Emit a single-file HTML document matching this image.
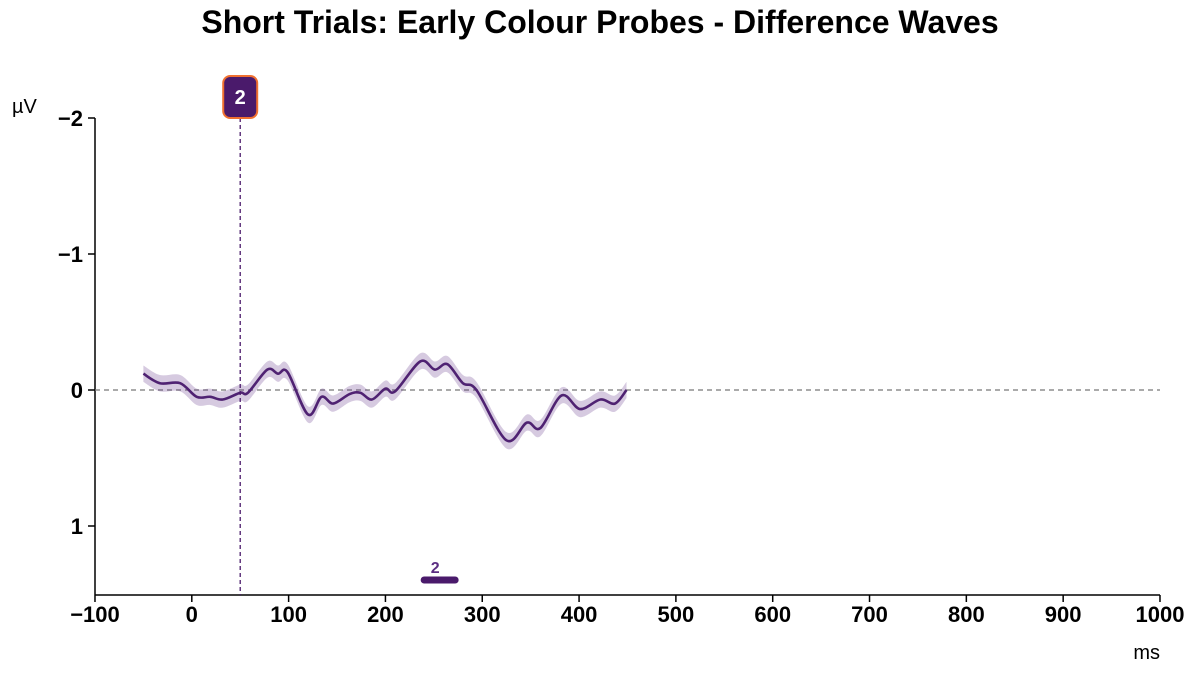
<!DOCTYPE html>
<html><head><meta charset="utf-8"><style>
body{margin:0;background:#fff}
svg{display:block;font-family:"Liberation Sans",sans-serif}
</style></head><body>
<svg id="c" width="1200" height="675">
<text x="600" y="33" text-anchor="middle" font-size="32" font-weight="bold">Short Trials: Early Colour Probes - Difference Waves</text>
<text x="12" y="113" font-size="20">µV</text>
<text x="1160" y="659" font-size="20" text-anchor="end">ms</text>
<g id="g"></g>
</svg>
<script>
const xTicks=[-100,0,100,200,300,400,500,600,700,800,900,1000];
const yTicks=[-2,-1,0,1];
const times=[-50,-33,-12,5,19,32,50,58,78,89,99,120,134,146,163,174,186,200,210,236,251,264,280,294,325,346,360,382,401,422,437,449];
const values=[-0.12,-0.05,-0.05,0.05,0.05,0.07,0.02,0.02,-0.15,-0.12,-0.13,0.18,0.05,0.1,0.03,0.02,0.07,-0.01,0.01,-0.21,-0.15,-0.19,-0.05,0,0.37,0.24,0.28,0.04,0.14,0.07,0.1,0];
const bandHalf=0.06;
const markerTime=50, markerLabel="2";
const sigStart=240, sigEnd=272;
const X=t=>191.8+(t)*1065/1100;
const Y=v=>390+v*136;
const NS="http://www.w3.org/2000/svg";
const g=document.getElementById('g');
function mk(tag,at,name){const e=document.createElementNS(NS,tag);for(const k in at)e.setAttribute(k,at[k]);


g.appendChild(e);return e;}
function path(pts){let d=`M${pts[0][0]},${pts[0][1]}`;for(let i=0;i<pts.length-1;i++){const p0=pts[Math.max(0,i-1)],p1=pts[i],p2=pts[i+1],p3=pts[Math.min(pts.length-1,i+2)];
d+=` C${p1[0]+(p2[0]-p0[0])/6},${p1[1]+(p2[1]-p0[1])/6} ${p2[0]-(p3[0]-p1[0])/6},${p2[1]-(p3[1]-p1[1])/6} ${p2[0]},${p2[1]}`;}return d;}
mk('line',{x1:95,y1:118,x2:95,y2:595,stroke:'#000','stroke-width':1.5},'y-axis');
mk('line',{x1:95,y1:595,x2:1160,y2:595,stroke:'#000','stroke-width':1.5},'x-axis');
xTicks.forEach(t=>{mk('line',{x1:X(t),y1:595,x2:X(t),y2:602,stroke:'#000','stroke-width':1.5},'x-tick');
const tx=mk('text',{x:X(t),y:622,'text-anchor':'middle','font-size':22,'font-weight':'bold'},'x-tick-label');tx.textContent=t<0?'−'+(-t):t;});
yTicks.forEach(v=>{mk('line',{x1:88,y1:Y(v),x2:95,y2:Y(v),stroke:'#000','stroke-width':1.5},'y-tick');
const tx=mk('text',{x:83,y:Y(v)+8,'text-anchor':'end','font-size':22,'font-weight':'bold'},'y-tick-label');tx.textContent=v<0?'−'+(-v):v;});
mk('line',{x1:95,y1:Y(0),x2:1160,y2:Y(0),stroke:'#777','stroke-width':1.2,'stroke-dasharray':'5,4'},'zero-line');
const up=times.map((t,i)=>[X(t),Y(values[i]-bandHalf)]);
const lo=times.map((t,i)=>[X(t),Y(values[i]+bandHalf)]).reverse();
const lp=path(lo);
mk('path',{d:path(up)+' L'+lo[0][0]+','+lo[0][1]+lp.slice(lp.indexOf('C')-1)+'Z',fill:'#5b2d82','fill-opacity':0.25},'error-band');
mk('path',{d:path(times.map((t,i)=>[X(t),Y(values[i])])),fill:'none',stroke:'#4f2272','stroke-width':2.6},'difference-wave');
mk('line',{x1:X(markerTime),y1:118,x2:X(markerTime),y2:595,stroke:'#4a1a6b','stroke-width':1.3,'stroke-dasharray':'4,3'},'marker-line');
mk('rect',{x:X(markerTime)-17,y:76,width:34,height:42,rx:7,fill:'#4a1a6b',stroke:'#f07030','stroke-width':2},'marker-badge');
const mt=mk('text',{x:X(markerTime),y:104,'text-anchor':'middle','font-size':20,'font-weight':'bold',fill:'#fff'},'marker-label');mt.textContent=markerLabel;
mk('line',{x1:X(sigStart),y1:580,x2:X(sigEnd),y2:580,stroke:'#4a1a6b','stroke-width':7,'stroke-linecap':'round'},'significance-bar');
const st=mk('text',{x:X(sigStart)+11,y:573,'text-anchor':'middle','font-size':16,'font-weight':'bold',fill:'#5b2d82'},'significance-label');st.textContent=markerLabel;
</script>
</body></html>
